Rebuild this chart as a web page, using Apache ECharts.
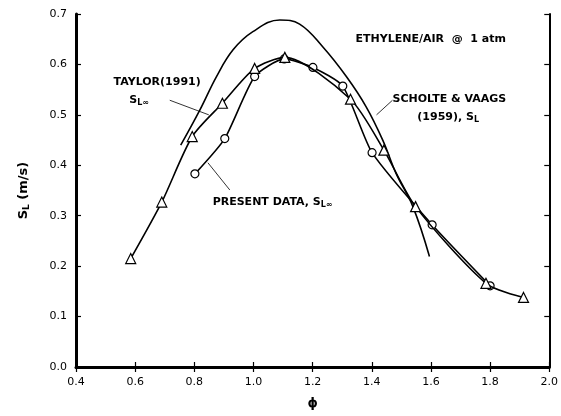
<!DOCTYPE html>
<html><head><meta charset="utf-8">
<script src="https://cdn.jsdelivr.net/npm/echarts@6/dist/echarts.min.js"></script>
<style>html,body{margin:0;padding:0;background:#fff}#c{width:561px;height:416px}</style>
</head><body><div id="c"></div>
<script>
// Taylor (1991) S_L∞ — triangles
const taylorX = [0.585, 0.69, 0.793, 0.895, 1.004, 1.106, 1.328, 1.441, 1.548, 1.786, 1.913];
const taylorY = [0.215, 0.327, 0.457, 0.523, 0.592, 0.614, 0.531, 0.430, 0.318, 0.166, 0.138];
// Present data S_L∞ — circles
const presentX = [0.802, 0.903, 1.004, 1.104, 1.201, 1.302, 1.401, 1.604, 1.80];
const presentY = [0.383, 0.453, 0.576, 0.611, 0.594, 0.557, 0.425, 0.282, 0.161];
// Scholte & Vaags (1959) S_L — curve
const scholteX = [0.754, 0.819, 0.875, 0.931, 0.998, 1.089, 1.156, 1.234, 1.314, 1.381, 1.437, 1.482, 1.539, 1.595];
const scholteY = [0.440, 0.510, 0.576, 0.629, 0.665, 0.688, 0.680, 0.635, 0.576, 0.516, 0.450, 0.384, 0.318, 0.219];
// tick labels
const xTicks = ['0.4','0.6','0.8','1.0','1.2','1.4','1.6','1.8','2.0'];
const yTicks = ['0.0','0.1','0.2','0.3','0.4','0.5','0.6','0.7'];

const zip = (a,b)=>a.map((v,i)=>[v,b[i]]);
const chart = echarts.init(document.getElementById('c'));
const F = '"DejaVu Sans", sans-serif';
const axisCommon = {
  axisLine:{show:true,lineStyle:{color:'#000',width:3}},
  axisTick:{show:true,inside:true,length:5,lineStyle:{color:'#000',width:1.2}},
  splitLine:{show:false}
};
chart.setOption({
  animation:false,
  backgroundColor:'#fff',
  grid:{left:76,right:11,top:14,bottom:49,containLabel:false},
  xAxis:[
    Object.assign({type:'value',min:0.4,max:2.0,interval:0.2,position:'bottom',
      axisLabel:{color:'#000',fontFamily:F,fontSize:11,margin:10,
        formatter:v=>xTicks[Math.round((v-0.4)/0.2)]},
      name:'ϕ',nameLocation:'middle',nameGap:30,
      nameTextStyle:{color:'#000',fontSize:13,fontWeight:'bold',fontFamily:F}},axisCommon),
    Object.assign({type:'value',min:0.4,max:2.0,interval:0.2,position:'top',
      axisLabel:{show:false}},axisCommon,{axisLine:{show:true,lineStyle:{color:'#000',width:2}}})
  ],
  yAxis:[
    Object.assign({type:'value',min:0,max:0.7,interval:0.1,position:'left',
      axisLabel:{color:'#000',fontFamily:F,fontSize:11,margin:9,
        formatter:v=>yTicks[Math.round(v/0.1)]},
      name:'{s|S}{sub|L}{s| (m/s)}',nameLocation:'middle',nameGap:45,nameRotate:90,
      nameTextStyle:{rich:{s:{fontSize:13,fontWeight:'bold',fontFamily:F,color:'#000'},
        sub:{fontSize:9,fontWeight:'bold',fontFamily:F,color:'#000',padding:[6,0,0,0]}}}},axisCommon),
    Object.assign({type:'value',min:0,max:0.7,interval:0.1,position:'right',
      axisLabel:{show:false}},axisCommon,{axisLine:{show:true,lineStyle:{color:'#000',width:2}}})
  ],
  series:[
    {type:'line',data:zip(scholteX,scholteY),smooth:0.4,showSymbol:false,
      lineStyle:{color:'#000',width:1.6},z:2},
    {type:'line',data:zip(taylorX,taylorY),smooth:0.25,symbol:'triangle',symbolSize:10,
      itemStyle:{color:'#fff',borderColor:'#000',borderWidth:1.2},
      lineStyle:{color:'#000',width:1.6},z:4},
    {type:'line',data:zip(presentX,presentY),smooth:0.2,symbol:'circle',symbolSize:8,
      itemStyle:{color:'#fff',borderColor:'#000',borderWidth:1.2},
      lineStyle:{color:'#000',width:1.6},z:3},
    // leader lines
    {type:'line',data:[[0.717,0.529],[0.849,0.500]],showSymbol:false,lineStyle:{color:'#000',width:0.8},z:1},
    {type:'line',data:[[0.846,0.405],[0.920,0.351]],showSymbol:false,lineStyle:{color:'#000',width:0.8},z:1},
    {type:'line',data:[[1.470,0.529],[1.416,0.500]],showSymbol:false,lineStyle:{color:'#000',width:0.8},z:1}
  ]
});

const notes = [
  {x:0.527,y:0.564,t:'TAYLOR(1991)'},
  {x:0.580,y:0.530,t:'S{sub|L∞}'},
  {x:1.345,y:0.651,t:'ETHYLENE/AIR  @  1 atm'},
  {x:1.470,y:0.531,t:'SCHOLTE & VAAGS'},
  {x:1.554,y:0.496,t:'(1959), S{sub|L}'},
  {x:0.862,y:0.327,t:'PRESENT DATA, S{sub|L∞}'}
];
chart.setOption({graphic:notes.map(n=>{
  const p = chart.convertToPixel({gridIndex:0},[n.x,n.y]);
  return {type:'text',x:p[0],y:p[1],style:{text:n.t,fill:'#000',font:'bold 11px '+F,
    verticalAlign:'middle',align:'left',
    rich:{sub:{fontSize:8,fontWeight:'bold',fontFamily:F,fill:'#000',padding:[6,0,0,0]}}}};
})});
</script></body></html>
